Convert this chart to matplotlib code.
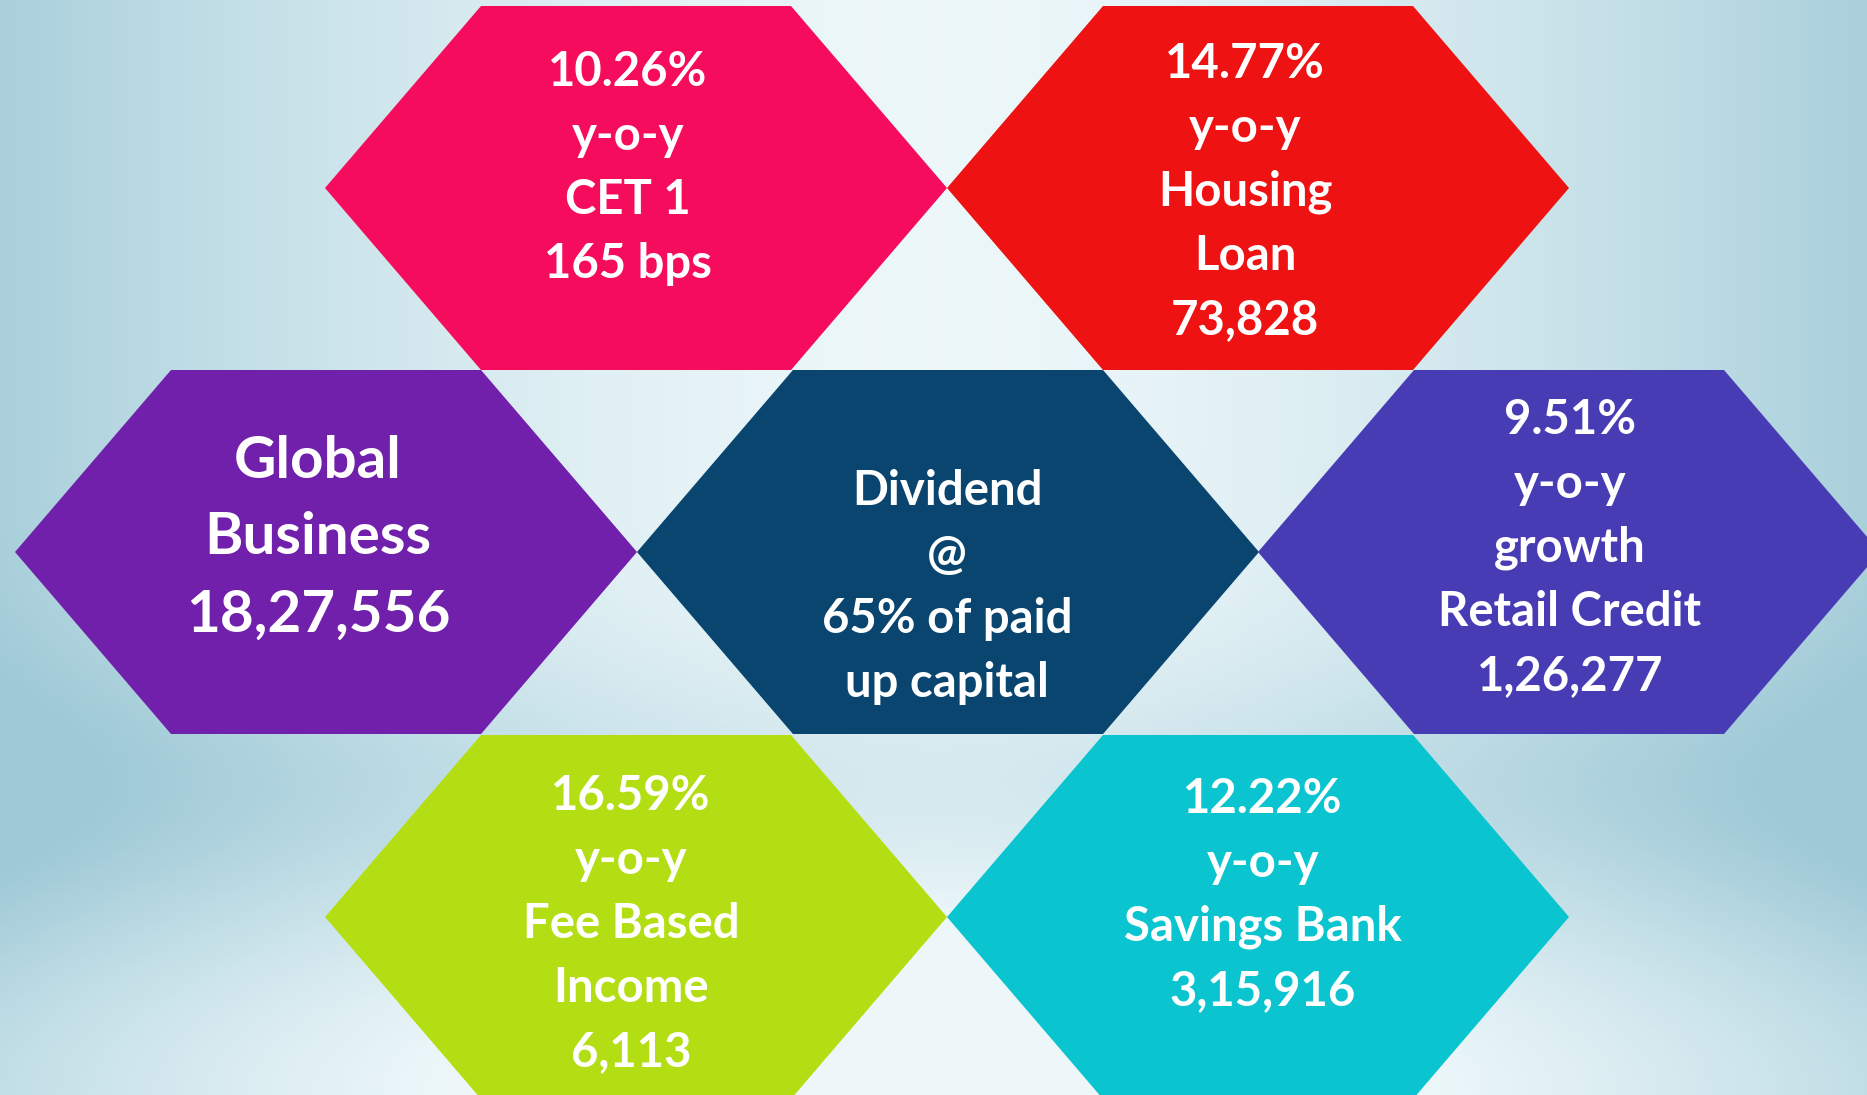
import numpy as np
import matplotlib
matplotlib.use('Agg')
import matplotlib.pyplot as plt
from matplotlib.patches import Polygon

# Hexagon tiles: centre (in pixels of the 1867x1095 canvas), colour and text lines
centres_x = [636, 1258, 326, 948, 1569, 636, 1258]
centres_y = [188, 188, 552, 552, 552, 917, 917]
colours = ['#F50C5C', '#EE1212', '#7020AA', '#09456E', '#483CB4', '#B4DE14', '#0AC4D0']
labels = [
    ['10.26%', 'y-o-y', 'CET 1', '165 bps'],
    ['14.77%', 'y-o-y', 'Housing', 'Loan', '73,828'],
    ['Global', 'Business', '18,27,556'],
    ['Dividend', '@', '65% of paid', 'up capital'],
    ['9.51%', 'y-o-y', 'growth', 'Retail Credit', '1,26,277'],
    ['16.59%', 'y-o-y', 'Fee Based', 'Income', '6,113'],
    ['12.22%', 'y-o-y', 'Savings Bank', '3,15,916'],
]
text_cx = [628, 1245, 318, 947, 1570, 631, 1263]
text_cy = [168, 192, 538, 587, 548, 924, 895]

W, H = 1867, 1095
hw, hh, tw = 311, 182, 155   # half width, half height, half top edge

fig = plt.figure(figsize=(W/100, H/100), dpi=100)
ax = fig.add_axes([0, 0, 1, 1])
ax.set_xlim(0, W)
ax.set_ylim(H, 0)
ax.axis('off')

# background gradient
xx, yy = np.meshgrid(np.linspace(-1, 1, 400), np.linspace(0, 1, 240))
light = np.array([0.93, 0.97, 0.98])
dark = np.array([0.62, 0.79, 0.84])
t = np.clip(np.abs(xx)**1.6 * 0.85 + 0.3*np.exp(-((yy-0.72)/0.12)**2) - 0.3*np.exp(-((yy-1.0)/0.15)**2), 0, 1)
bg = light[None, None, :]*(1-t[..., None]) + dark[None, None, :]*t[..., None]
ax.imshow(bg, extent=(0, W, H, 0), aspect='auto', zorder=0)

for cx, cy, c in zip(centres_x, centres_y, colours):
    pts = [(cx-hw, cy), (cx-tw, cy-hh), (cx+tw, cy-hh), (cx+hw, cy), (cx+tw, cy+hh), (cx-tw, cy+hh)]
    ax.add_patch(Polygon(pts, closed=True, facecolor=c, edgecolor='none', zorder=2))

for i, lines in enumerate(labels):
    pitch = 77 if i == 2 else 64
    size = 42 if i == 2 else 34
    n = len(lines)
    for k, s in enumerate(lines):
        y = text_cy[i] + (k - (n-1)/2)*pitch
        ax.text(text_cx[i], y, s, ha='center', va='center', color='white',
                fontsize=size, fontweight='bold', family='Lato', zorder=3)

fig.savefig('out.png', dpi=100)
